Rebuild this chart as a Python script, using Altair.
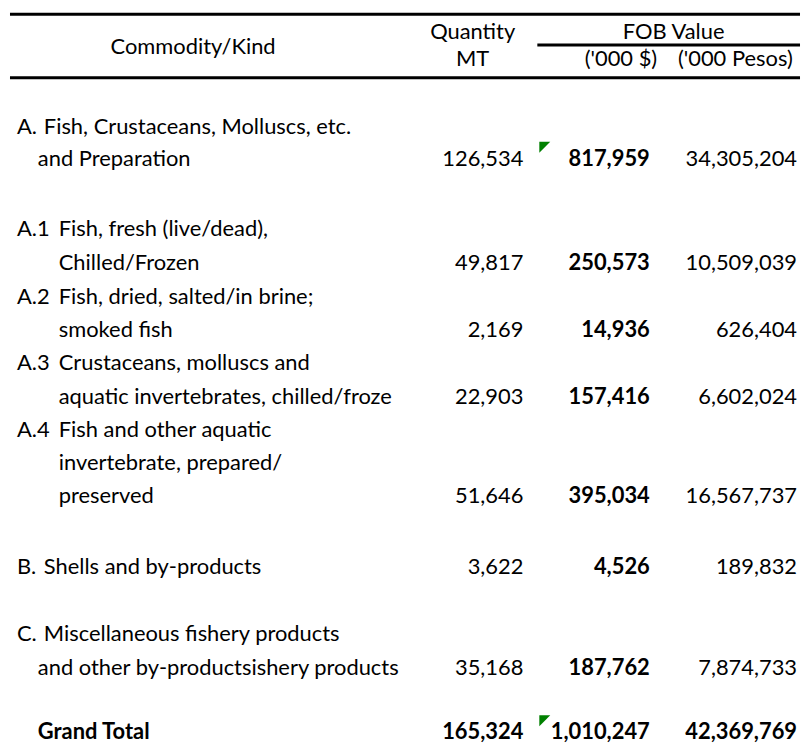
import altair as alt
import pandas as pd

# ---------------- data ----------------
stub_header = "Commodity/Kind"
header_top = ["Quantity", "FOB Value"]
header_bottom = ["MT", "('000 $)", "('000 Pesos)"]

row_codes = ["A.", "A.1", "A.2", "A.3", "A.4", "B.", "C.", ""]
row_labels = [
    ["Fish, Crustaceans, Molluscs, etc.", "and Preparation"],
    ["Fish, fresh (live/dead),", "Chilled/Frozen"],
    ["Fish, dried, salted/in brine;", "smoked fish"],
    ["Crustaceans, molluscs and", "aquatic invertebrates, chilled/froze"],
    ["Fish and other aquatic", "invertebrate, prepared/", "preserved"],
    ["Shells and by-products"],
    ["Miscellaneous fishery products", "and other by-productsishery products"],
    ["Grand Total"],
]
quantity_mt = [126534, 49817, 2169, 22903, 51646, 3622, 35168, 165324]
fob_usd_000 = [817959, 250573, 14936, 157416, 395034, 4526, 187762, 1010247]
fob_pesos_000 = [34305204, 10509039, 626404, 6602024, 16567737, 189832, 7874733, 42369769]
flagged_cells = [True, False, False, False, False, False, False, True]

# ---------------- layout (page pixel units) ----------------
W, H = 794, 731
OFF = 8
row_line_y = [[126, 158], [229, 263], [297, 331], [364, 398], [431, 465, 498],
              [570], [637, 671], [736]]
code_x = 15
col_right = [524, 651, 799]
FONT = "Lato"
FS = 22

texts = []  # x, y, text, align, bold
texts.append(dict(x=192, y=45, text=stub_header, align="center", bold=False))
texts.append(dict(x=473, y=30.5, text=header_top[0], align="center", bold=False))
texts.append(dict(x=675, y=30.5, text=header_top[1], align="center", bold=False))
texts.append(dict(x=473, y=57.5, text=header_bottom[0], align="center", bold=False))
texts.append(dict(x=622, y=57.5, text=header_bottom[1], align="center", bold=False))
texts.append(dict(x=737, y=57.5, text=header_bottom[2], align="center", bold=False))

for i, (code, lines) in enumerate(zip(row_codes, row_labels)):
    ys = row_line_y[i]
    is_total = code == ""
    if code:
        texts.append(dict(x=code_x, y=ys[0], text=code, align="left", bold=False))
    sub = "." in code[:-1] if code else False
    for j, line in enumerate(lines):
        if is_total:
            lx = 36
        elif sub:
            lx = 57
        else:
            lx = 42 if j == 0 else 36
        texts.append(dict(x=lx, y=ys[j], text=line, align="left", bold=is_total))
    vy = ys[-1]
    for k, val in enumerate([quantity_mt[i], fob_usd_000[i], fob_pesos_000[i]]):
        texts.append(dict(x=col_right[k], y=vy, text=f"{val:,}", align="right",
                          bold=(is_total or k == 1)))

tdf = pd.DataFrame(texts)

flags = pd.DataFrame([
    dict(x=545.5, y=row_line_y[i][-1] - 11.5)
    for i, f in enumerate(flagged_cells) if f
])

rules = pd.DataFrame([
    dict(x=OFF, x2=OFF + W, y=12.5),
    dict(x=538, x2=OFF + W, y=43.5),
    dict(x=OFF, x2=OFF + W, y=76.5),
])

xs = alt.Scale(domain=[OFF, OFF + W], nice=False, zero=False)
ys_ = alt.Scale(domain=[OFF, 741], reverse=True, nice=False, zero=False)


def text_layer(align, bold):
    d = tdf[(tdf["align"] == align) & (tdf["bold"] == bold)]
    return alt.Chart(d).mark_text(
        align=align, baseline="middle", font=FONT, fontSize=FS,
        fontWeight="bold" if bold else "normal", color="#000000"
    ).encode(
        x=alt.X("x:Q", scale=xs, axis=None),
        y=alt.Y("y:Q", scale=ys_, axis=None),
        text="text:N",
    )


layers = []
for a in ["left", "right", "center"]:
    for b in [False, True]:
        if len(tdf[(tdf["align"] == a) & (tdf["bold"] == b)]):
            layers.append(text_layer(a, b))

rule_layer = alt.Chart(rules).mark_rule(color="#000000", strokeWidth=3).encode(
    x=alt.X("x:Q", scale=xs, axis=None),
    x2="x2:Q",
    y=alt.Y("y:Q", scale=ys_, axis=None),
)

flag_layer = alt.Chart(flags).mark_point(
    shape="M-1,-1L1,-1L-1,1Z", filled=True, color="#008000", opacity=1,
    size=121, strokeWidth=0
).encode(
    x=alt.X("x:Q", scale=xs, axis=None),
    y=alt.Y("y:Q", scale=ys_, axis=None),
)

chart = alt.layer(rule_layer, flag_layer, *layers).properties(
    width=W, height=H, padding=0
).configure(background="white").configure_view(stroke=None)

chart.save("out.html", embed_options={"renderer": "svg", "actions": False})
